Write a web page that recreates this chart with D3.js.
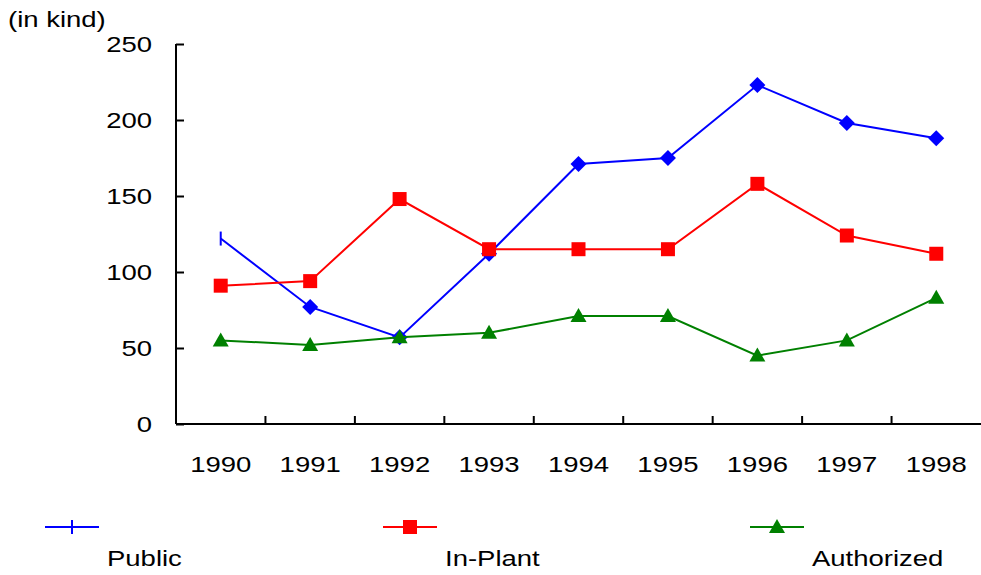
<!DOCTYPE html>
<html>
<head>
<meta charset="utf-8">
<script src="https://cdn.jsdelivr.net/npm/d3@7"></script>
<style>
  body { margin: 0; background: #fff; }
  text { font-family: "Liberation Sans", Arial, sans-serif; fill: #000; font-size: 22px; }
</style>
</head>
<body>
<script>
// chart data
var years = ["1990", "1991", "1992", "1993", "1994", "1995", "1996", "1997", "1998"];
var publicVals = [122, 77, 57, 112, 171, 175, 223, 198, 188];
var inPlantVals = [91, 94, 148, 115, 115, 115, 158, 124, 112];
var authorizedVals = [55, 52, 57, 60, 71, 71, 45, 55, 83];
var yTicks = [0, 50, 100, 150, 200, 250];
var seriesNames = ["Public", "In-Plant", "Authorized"];

var W = 981, H = 575;
var margin = {top: 44, right: 0, bottom: 151, left: 176},
    width = W - margin.left - margin.right,
    height = H - margin.top - margin.bottom;
var stretch = 1.25; // text in the original is drawn wide

var series = [
  {name: seriesNames[0], values: publicVals, color: "#0000ff", marker: "diamond"},
  {name: seriesNames[1], values: inPlantVals, color: "#ff0000", marker: "square"},
  {name: seriesNames[2], values: authorizedVals, color: "#008000", marker: "triangle"}
];

var svg = d3.select("body").append("svg")
    .attr("width", W)
    .attr("height", H);

var g = svg.append("g")
    .attr("transform", "translate(" + margin.left + "," + margin.top + ")");

var x = d3.scaleBand().domain(years).range([0, width]);
var y = d3.scaleLinear().domain([0, 250]).range([height, 0]);

function wideText(parent, tx, ty, anchor, str) {
  return parent.append("text")
    .attr("transform", "translate(" + tx + "," + ty + ") scale(" + stretch + ",1)")
    .attr("text-anchor", anchor)
    .text(str);
}

// y axis, ticks pointing inward
var yAxis = g.append("g")
    .call(d3.axisRight(y).tickValues(yTicks).tickSize(8).tickFormat(""));
yAxis.select(".domain").remove();
yAxis.selectAll("line").attr("stroke", "#000").attr("stroke-width", 2);
g.append("line")
    .attr("x1", 0).attr("x2", 0).attr("y1", 0).attr("y2", height)
    .attr("stroke", "#000").attr("stroke-width", 2);

yTicks.forEach(function(d) {
  wideText(g, -24, y(d) + 8, "end", d);
});

// x axis with ticks on band boundaries, pointing up
g.append("line")
    .attr("x1", 0).attr("x2", width).attr("y1", height).attr("y2", height)
    .attr("stroke", "#000").attr("stroke-width", 2);
g.selectAll(".xtick")
    .data(years.slice(1))
  .enter().append("line")
    .attr("class", "xtick")
    .attr("x1", function(d) { return x(d); })
    .attr("x2", function(d) { return x(d); })
    .attr("y1", height).attr("y2", height - 8)
    .attr("stroke", "#000").attr("stroke-width", 2);

years.forEach(function(d) {
  wideText(g, x(d) + x.bandwidth() / 2, height + 48, "middle", d);
});

wideText(svg, 8, 27, "start", "(in kind)");

// markers
function drawMarker(sel, type, color, cx, cy) {
  if (type === "diamond") {
    sel.append("path")
      .attr("d", "M0,-8L8,0L0,8L-8,0Z")
      .attr("transform", "translate(" + cx + "," + cy + ")")
      .attr("fill", color);
  } else if (type === "square") {
    sel.append("rect")
      .attr("x", cx - 7).attr("y", cy - 7)
      .attr("width", 14).attr("height", 14)
      .attr("fill", color);
  } else if (type === "triangle") {
    sel.append("path")
      .attr("d", "M0,-8L8,6L-8,6Z")
      .attr("transform", "translate(" + cx + "," + cy + ")")
      .attr("fill", color);
  } else if (type === "plus") {
    sel.append("line")
      .attr("x1", cx).attr("x2", cx).attr("y1", cy - 7).attr("y2", cy + 7)
      .attr("stroke", color).attr("stroke-width", 2);
  }
}

var line = d3.line()
    .x(function(d, i) { return x(years[i]) + x.bandwidth() / 2; })
    .y(function(d) { return y(d); });

series.forEach(function(s) {
  g.append("path")
      .datum(s.values)
      .attr("fill", "none")
      .attr("stroke", s.color)
      .attr("stroke-width", 2)
      .attr("d", line);
  var mg = g.append("g");
  s.values.forEach(function(v, i) {
    var type = (s.marker === "diamond" && i === 0) ? "plus" : s.marker;
    drawMarker(mg, type, s.color, x(years[i]) + x.bandwidth() / 2, y(v));
  });
});

// legend
var legendX = [45, 383, 750];
var legendMarker = ["plus", "square", "triangle"];
series.forEach(function(s, i) {
  var lg = svg.append("g");
  lg.append("line")
      .attr("x1", legendX[i]).attr("x2", legendX[i] + 54)
      .attr("y1", 527).attr("y2", 527)
      .attr("stroke", s.color).attr("stroke-width", 2);
  var mx = legendX[i] + 27;
  if (legendMarker[i] === "plus") {
    lg.append("line")
      .attr("x1", mx).attr("x2", mx).attr("y1", 520).attr("y2", 534)
      .attr("stroke", s.color).attr("stroke-width", 2);
  } else {
    drawMarker(lg, legendMarker[i], s.color, mx, 527);
  }
  wideText(lg, legendX[i] + 62, 566, "start", s.name);
});
</script>
</body>
</html>
